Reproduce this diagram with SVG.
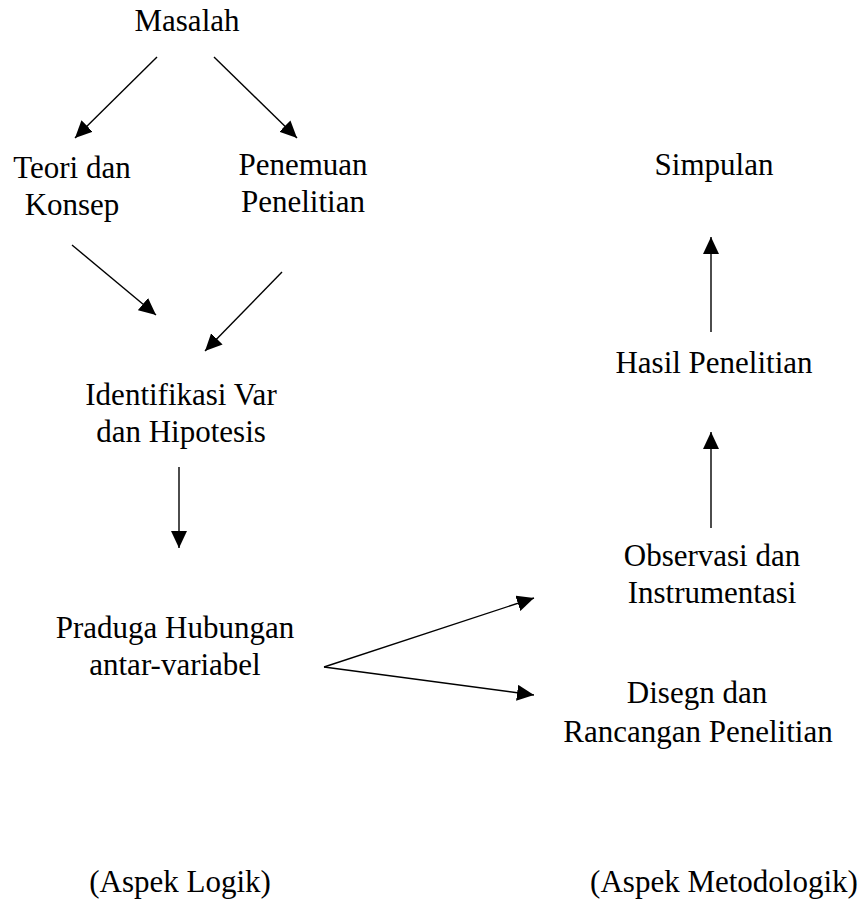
<svg xmlns="http://www.w3.org/2000/svg" width="866" height="907" viewBox="0 0 866 907">
<defs>
<marker id="ah" markerUnits="userSpaceOnUse" markerWidth="18" markerHeight="16" refX="17" refY="8" orient="auto">
<path d="M0,0 L17,8 L0,16 Z" fill="#000"/>
</marker>
<style>
text{font-family:"Liberation Serif","Times New Roman",serif;font-size:31px;fill:#000;text-anchor:middle}
line{stroke:#000;stroke-width:1.4;marker-end:url(#ah)}
</style>
</defs>
<rect width="866" height="907" fill="#fff"/>
<g id="connectors">
<line x1="157" y1="57" x2="75" y2="138"/>
<line x1="214" y1="57" x2="297" y2="138"/>
<line x1="72" y1="245" x2="156" y2="315"/>
<line x1="282" y1="272" x2="205" y2="351"/>
<line x1="179" y1="467" x2="179" y2="548"/>
<line x1="324" y1="667" x2="534" y2="598"/>
<line x1="324" y1="667" x2="534" y2="695"/>
<line x1="711" y1="528" x2="711" y2="432"/>
<line x1="711" y1="332" x2="711" y2="237"/>
</g>
<g id="masalah"><text x="187" y="31">Masalah</text></g>
<g id="teori"><text x="72" y="178">Teori dan</text><text x="72" y="215">Konsep</text></g>
<g id="penemuan"><text x="303" y="175">Penemuan</text><text x="303" y="212">Penelitian</text></g>
<g id="identifikasi"><text x="181" y="405">Identifikasi Var</text><text x="181" y="442">dan Hipotesis</text></g>
<g id="praduga"><text x="175" y="638">Praduga Hubungan</text><text x="175" y="675">antar-variabel</text></g>
<g id="simpulan"><text x="714" y="175">Simpulan</text></g>
<g id="hasil"><text x="714" y="373">Hasil Penelitian</text></g>
<g id="observasi"><text x="712" y="566">Observasi dan</text><text x="712" y="603">Instrumentasi</text></g>
<g id="disegn"><text x="697" y="703">Disegn dan</text><text x="698" y="742">Rancangan Penelitian</text></g>
<g id="aspek-logik"><text x="180" y="892">(Aspek Logik)</text></g>
<g id="aspek-metodologik"><text x="724" y="892">(Aspek Metodologik)</text></g>
</svg>
